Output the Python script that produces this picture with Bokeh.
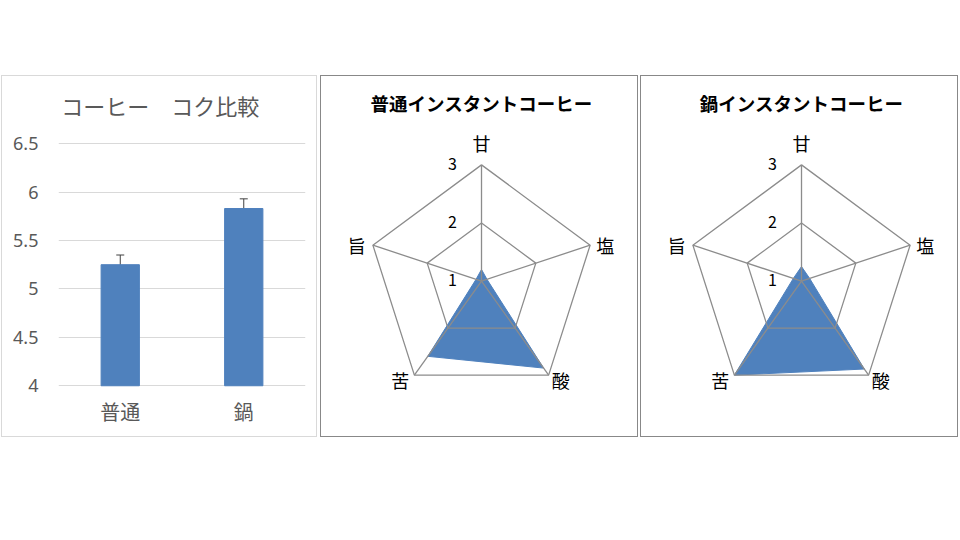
import math
from bokeh.plotting import figure
from bokeh.layouts import row, column, Spacer
from bokeh.models import (ColumnDataSource, Range1d, FixedTicker, Whisker, TeeHead)
from bokeh.core.properties import value
from bokeh.embed import file_html
from bokeh.resources import INLINE

# ---------------- data ----------------
bar_title = "コーヒー　コク比較"
categories = ["普通", "鍋"]
koku_means = [5.25, 5.83]
koku_errors = [0.10, 0.10]
y_ticks = [4, 4.5, 5, 5.5, 6, 6.5]
y_tick_labels = ["4", "4.5", "5", "5.5", "6", "6.5"]

radar_axes = ["甘", "塩", "酸", "苦", "旨"]
radar_ticks = [1, 2, 3]
radar_tick_labels = ["1", "2", "3"]
radar_titles = ["普通インスタントコーヒー", "鍋インスタントコーヒー"]
futsu_values = [1.2, 1.1, 2.85, 2.6, 1.1]
nabe_values = [1.25, 1.15, 2.87, 3.0, 1.15]

# ---------------- styles ----------------
FONT = "Noto Sans CJK JP"
BLUE = "#4f81bd"
GRAY_TXT = "#595959"
GRID = "#d9d9d9"
RADAR_GRID = "#8c8c8c"

# page geometry (pixels)
TOP = 75          # top of the panels
PH = 362          # panel height (incl. 1px border)
IN_TOP = TOP + 1  # inner top
FRAME_BOTTOM = 390

# ---------------- bar chart ----------------
x_pos = [i + 0.5 for i in range(len(categories))]
src = ColumnDataSource(dict(
    x=x_pos,
    mean=koku_means,
    upper=[m + e for m, e in zip(koku_means, koku_errors)],
    lower=[m - e for m, e in zip(koku_means, koku_errors)],
))

# y pixel scale: 4 at y=383.3, 6.5 at y=142.7
Y0_PX, Y1_PX = 383.3, 142.7
pxu = (Y0_PX - Y1_PX) / (y_ticks[-1] - y_ticks[0])
y_top = y_ticks[0] + (Y0_PX - IN_TOP) / pxu
y_bot = y_ticks[0] - (FRAME_BOTTOM - Y0_PX) / pxu

p1 = figure(x_range=Range1d(0, len(categories)), y_range=Range1d(y_bot, y_top),
            width=316, height=PH, output_backend="svg", toolbar_location=None,
            min_border_left=56, min_border_right=13, min_border_top=0,
            min_border_bottom=(TOP + PH - 1) - FRAME_BOTTOM,
            background_fill_color="white", border_fill_color="white",
            styles={"border": "1px solid #d9d9d9"})
p1.title.visible = False
p1.outline_line_color = None
p1.vbar(x="x", top="mean", bottom=y_ticks[0], width=0.31, color=BLUE, source=src)
wh = Whisker(base="x", upper="upper", lower="lower", source=src,
             line_color="#404040", line_width=1,
             upper_head=TeeHead(size=8, line_color="#404040", line_width=1),
             lower_head=TeeHead(size=8, line_color="#404040", line_width=1))
p1.add_layout(wh)

# chart title drawn inside the frame
title_x = (159 - 58) / 122.5
title_y = y_ticks[0] + (Y0_PX - 104) / pxu
p1.text(x=[title_x], y=[title_y], text=[bar_title], text_align="center",
        text_baseline="middle", text_font=value(FONT), text_font_size="22px",
        text_color=GRAY_TXT)

p1.yaxis.ticker = FixedTicker(ticks=y_ticks)
p1.yaxis.major_label_overrides = {t: l for t, l in zip(y_ticks, y_tick_labels)}
p1.xaxis.ticker = FixedTicker(ticks=x_pos)
p1.xaxis.major_label_overrides = {x: c for x, c in zip(x_pos, categories)}
p1.axis.axis_line_color = None
p1.axis.major_tick_line_color = None
p1.axis.minor_tick_line_color = None
p1.axis.major_tick_out = 0
p1.axis.major_tick_in = 0
p1.axis.minor_tick_out = 0
p1.axis.major_label_text_color = GRAY_TXT
p1.yaxis.major_label_text_font = "Noto Sans"
p1.yaxis.major_label_text_font_size = "18px"
p1.yaxis.major_label_standoff = 20
p1.xaxis.major_label_text_font = FONT
p1.xaxis.major_label_text_font_size = "20px"
p1.xaxis.major_label_standoff = 4
p1.xgrid.grid_line_color = None
p1.ygrid.grid_line_color = GRID
p1.ygrid.grid_line_width = 1


# ---------------- radar charts ----------------
UX, UY = 113.5, 115.5      # pixels per unit radius
RW = 318
FW = RW - 2                # frame width
FH = FRAME_BOTTOM - IN_TOP # frame height
CX = 159.0                 # centre from inner left
CY = 279.3 - IN_TOP        # centre from inner top


def radar(title, vals):
    n = len(radar_axes)
    angles = [math.pi / 2 - 2 * math.pi * i / n for i in range(n)]
    rmin, rmax = radar_ticks[0], radar_ticks[-1]

    def rad(v):
        return (v - rmin) / (rmax - rmin)

    p = figure(width=RW, height=PH, output_backend="svg", toolbar_location=None,
               x_range=Range1d(-CX / UX, (FW - CX) / UX),
               y_range=Range1d(-(FH - CY) / UY, CY / UY),
               min_border_left=0, min_border_right=0, min_border_top=0,
               min_border_bottom=(TOP + PH - 1) - FRAME_BOTTOM,
               background_fill_color="white", border_fill_color="white",
               styles={"border": "1px solid #888888"})
    p.title.visible = False
    p.outline_line_color = None
    p.axis.visible = False
    p.grid.visible = False

    # data polygon
    xs = [rad(v) * math.cos(a) for v, a in zip(vals, angles)]
    ys = [rad(v) * math.sin(a) for v, a in zip(vals, angles)]
    p.patch(xs, ys, fill_color=BLUE, line_color=BLUE, line_width=1)

    # rings
    for t in radar_ticks[1:]:
        r = rad(t)
        rx = [r * math.cos(a) for a in angles + [angles[0]]]
        ry = [r * math.sin(a) for a in angles + [angles[0]]]
        p.line(rx, ry, line_color=RADAR_GRID, line_width=1.3)
    # spokes
    p.segment(x0=[0] * n, y0=[0] * n,
              x1=[math.cos(a) for a in angles], y1=[math.sin(a) for a in angles],
              line_color=RADAR_GRID, line_width=1.3)

    # ring labels
    p.text(x=[-29 / UX] * len(radar_ticks), y=[rad(t) + 1 / UY for t in radar_ticks],
           text=radar_tick_labels, text_align="center", text_baseline="middle",
           text_font=value(FONT), text_font_size="16px", text_color="black")

    # axis labels
    offs = [(0, 22), (15, 0), (12, -5), (-14, -5), (-16, 0)]
    lx = [math.cos(a) + ox / UX for a, (ox, oy) in zip(angles, offs)]
    ly = [math.sin(a) + oy / UY for a, (ox, oy) in zip(angles, offs)]
    p.text(x=lx, y=ly, text=radar_axes, text_align="center", text_baseline="middle",
           text_font=value(FONT), text_font_size="18px", text_color="black")

    # title
    p.text(x=[0], y=[(CY - 26) / UY], text=[title], text_align="center",
           text_baseline="middle", text_font=value(FONT), text_font_size="18.5px",
           text_font_style="bold", text_color="black")
    return p


p2 = radar(radar_titles[0], futsu_values)
p3 = radar(radar_titles[1], nabe_values)

layout = column(Spacer(height=TOP),
                row(Spacer(width=1), p1, Spacer(width=3), p2, Spacer(width=2), p3,
                    spacing=0),
                spacing=0)

open("out.html", "w").write(file_html(layout, INLINE))
